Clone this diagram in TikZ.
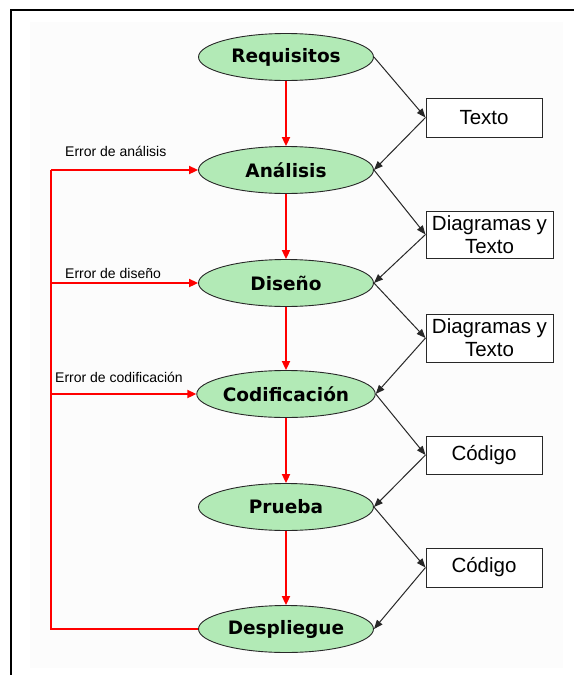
\documentclass[tikz,border=0pt]{standalone}
\usepackage{fontspec}
\setmainfont{Liberation Sans}
\newfontfamily\stagefont{DejaVu Sans}
\usetikzlibrary{arrows.meta,shapes.geometric}
\definecolor{stagegreen}{RGB}{178,234,182}
\definecolor{edgegray}{RGB}{40,40,40}
\definecolor{paper}{RGB}{252,252,252}
\begin{document}
\begin{tikzpicture}[x=1pt,y=-1pt,
  stage/.style={ellipse,draw=edgegray,line width=0.9pt,fill=stagegreen,
    minimum width=175pt,minimum height=47pt,inner sep=0pt,
    font=\stagefont\bfseries\fontsize{18.5}{22}\selectfont},
  artifact/.style={rectangle,draw=edgegray,line width=1pt,fill=white,
    inner sep=0pt,align=center,
    font=\fontsize{20.5}{23}\selectfont},
  flow/.style={draw=red,line width=2pt,-{Triangle[length=9pt,width=8pt]}},
  feedback/.style={draw=red,line width=2pt},
  product/.style={draw=edgegray,line width=1pt,-{Triangle[length=9pt,width=7pt]}},
  errlabel/.style={anchor=base west,inner sep=0pt,font=\fontsize{14}{16}\selectfont}]
  \useasboundingbox (0,0) rectangle (574,675);
  % page and frame
  \fill[paper] (30,22) rectangle (563,668);
  \draw[black,line width=2.5pt] (11,675) -- (11,10) -- (574,10);

  % process stages
  \node[stage] (req) at (286,57)  {Requisitos};
  \node[stage] (ana) at (286,170) {Análisis};
  \node[stage] (dis) at (286,283) {Diseño};
  \node[stage] (cod) at (286,394) {Codificación};
  \node[stage] (pru) at (286,507) {Prueba};
  \node[stage] (des) at (286,629) {Despliegue};

  % products between stages
  \node[artifact,minimum width=116pt,minimum height=39pt] (p1) at (484,117.5) {Texto};
  \node[artifact,minimum width=127pt,minimum height=47pt] (p2) at (489.5,234.5) {Diagramas y\\Texto};
  \node[artifact,minimum width=127pt,minimum height=48pt] (p3) at (489.5,338) {Diagramas y\\Texto};
  \node[artifact,minimum width=116pt,minimum height=38pt] (p4) at (484,455) {Código};
  \node[artifact,minimum width=116pt,minimum height=39pt] (p5) at (484,567.5) {Código};

  % main flow
  \draw[flow] (req) -- (ana);
  \draw[flow] (ana) -- (dis);
  \draw[flow] (dis) -- (cod);
  \draw[flow] (cod) -- (pru);
  \draw[flow] (pru) -- (des);

  % stage -> product -> next stage
  \draw[product] (req.east) -- (p1.west);
  \draw[product] (p1.west) -- (ana.east);
  \draw[product] (ana.east) -- (p2.west);
  \draw[product] (p2.west) -- (dis.east);
  \draw[product] (dis.east) -- (p3.west);
  \draw[product] (p3.west) -- (cod.east);
  \draw[product] (cod.east) -- (p4.west);
  \draw[product] (p4.west) -- (pru.east);
  \draw[product] (pru.east) -- (p5.west);
  \draw[product] (p5.west) -- (des.east);

  % feedback loop
  \coordinate (bus) at (51,629);
  \draw[feedback] (des.west) -- (bus) -- (bus |- ana.west);
  \draw[flow] (bus |- ana.west) -- (ana.west);
  \draw[flow] (bus |- dis.west) -- (dis.west);
  \draw[flow] (bus |- cod.west) -- (cod.west);

  \node[errlabel] (e1) at (65,156) {Error de análisis};
  \node[errlabel] (e2) at (65,278) {Error de diseño};
  \node[errlabel] (e3) at (55,382) {Error de codificación};
\end{tikzpicture}
\end{document}
